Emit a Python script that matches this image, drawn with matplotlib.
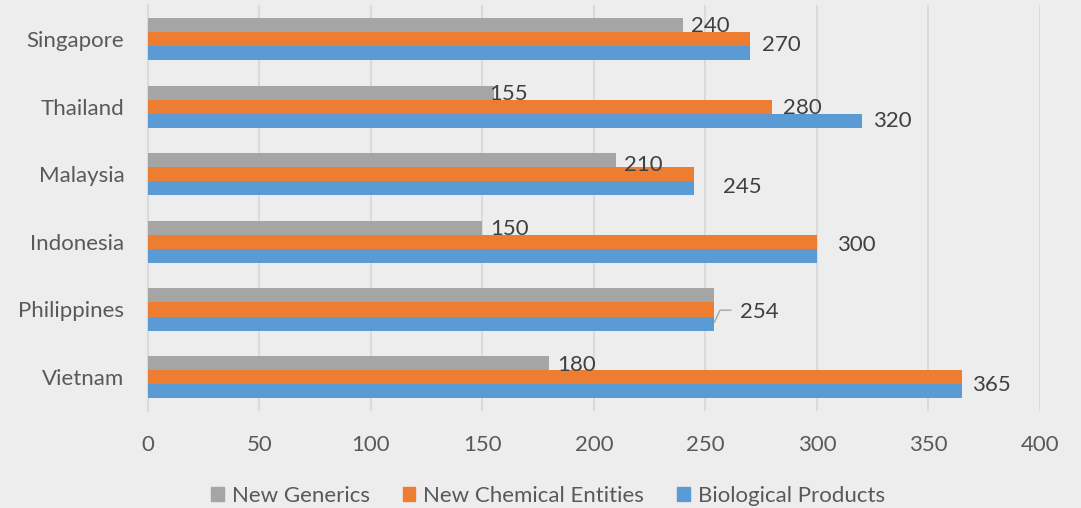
import numpy as np
import matplotlib.pyplot as plt
from matplotlib.patches import Patch

plt.rcParams['font.family'] = ['Lato', 'DejaVu Sans']

countries = ["Vietnam", "Philippines", "Indonesia", "Malaysia", "Thailand", "Singapore"]
new_generics = [180, 254, 150, 210, 155, 240]
new_chemical = [365, 254, 300, 245, 280, 270]
biological = [365, 254, 300, 245, 320, 270]
xticks = [0, 50, 100, 150, 200, 250, 300, 350, 400]

# data labels: (country index, value, x offset, y offset from group centre)
labels = [
    (5, 240, 3.6, 0.19), (5, 270, 5.4, -0.09),
    (4, 155, -2, 0.19), (4, 280, 4.7, -0.02), (4, 320, 5, -0.22),
    (3, 210, 3.5, 0.13), (3, 245, 12.8, -0.19),
    (2, 150, 3.4, 0.19), (2, 300, 9, -0.04),
    (1, 254, 11.5, -0.04),
    (0, 180, 3.5, 0.18), (0, 365, 4.5, -0.12),
]

c_grey = "#A5A5A5"
c_orange = "#ED7D31"
c_blue = "#5B9BD5"
bg = "#EDEDED"

fig = plt.figure(figsize=(10.81, 5.08), dpi=100, facecolor=bg)
ax = fig.add_axes([0.1369, 0.191, 0.962 - 0.1369, 0.799])
ax.set_facecolor(bg)

y = np.arange(len(countries))
h = 0.207
ax.barh(y + h, new_generics, height=h, color=c_grey, zorder=3)
ax.barh(y, new_chemical, height=h, color=c_orange, zorder=3)
ax.barh(y - h, biological, height=h, color=c_blue, zorder=3)

for i, v, dx, dy in labels:
    ax.text(v + dx, i + dy, str(v), ha="left", va="center",
            fontsize=16, color="#404040", zorder=4)

# leader line on the Philippines label
ax.plot([254, 256.5, 261.4], [1 - 0.19, 1 - 0.01, 1 - 0.01],
        color="#A6A6A6", lw=1, zorder=4)

ax.set_xlim(0, 400)
ax.set_ylim(-0.5, 5.5)
ax.set_xticks(xticks)
ax.set_xticklabels([str(t) for t in xticks])
ax.set_yticks(y)
ax.set_yticklabels(countries)
ax.tick_params(axis="both", length=0, labelsize=16, colors="#595959")
ax.tick_params(axis="x", pad=17)
ax.tick_params(axis="y", pad=17)
ax.grid(axis="x", color="#D9D9D9", lw=1.3, zorder=0)
for side in ["top", "right", "bottom"]:
    ax.spines[side].set_visible(False)
ax.spines["left"].set_color("#D9D9D9")
ax.spines["left"].set_linewidth(1.3)

handles = [Patch(color=c_grey, label="New Generics"),
           Patch(color=c_orange, label="New Chemical Entities"),
           Patch(color=c_blue, label="Biological Products")]
leg = fig.legend(handles=handles, loc="center", bbox_to_anchor=(0.507, 0.024),
                 ncol=3, frameon=False, fontsize=16, handlelength=0.55,
                 handleheight=0.55, handletextpad=0.36, columnspacing=1.5)
for t in leg.get_texts():
    t.set_color("#595959")

fig.savefig("out.png", dpi=100, facecolor=bg)
